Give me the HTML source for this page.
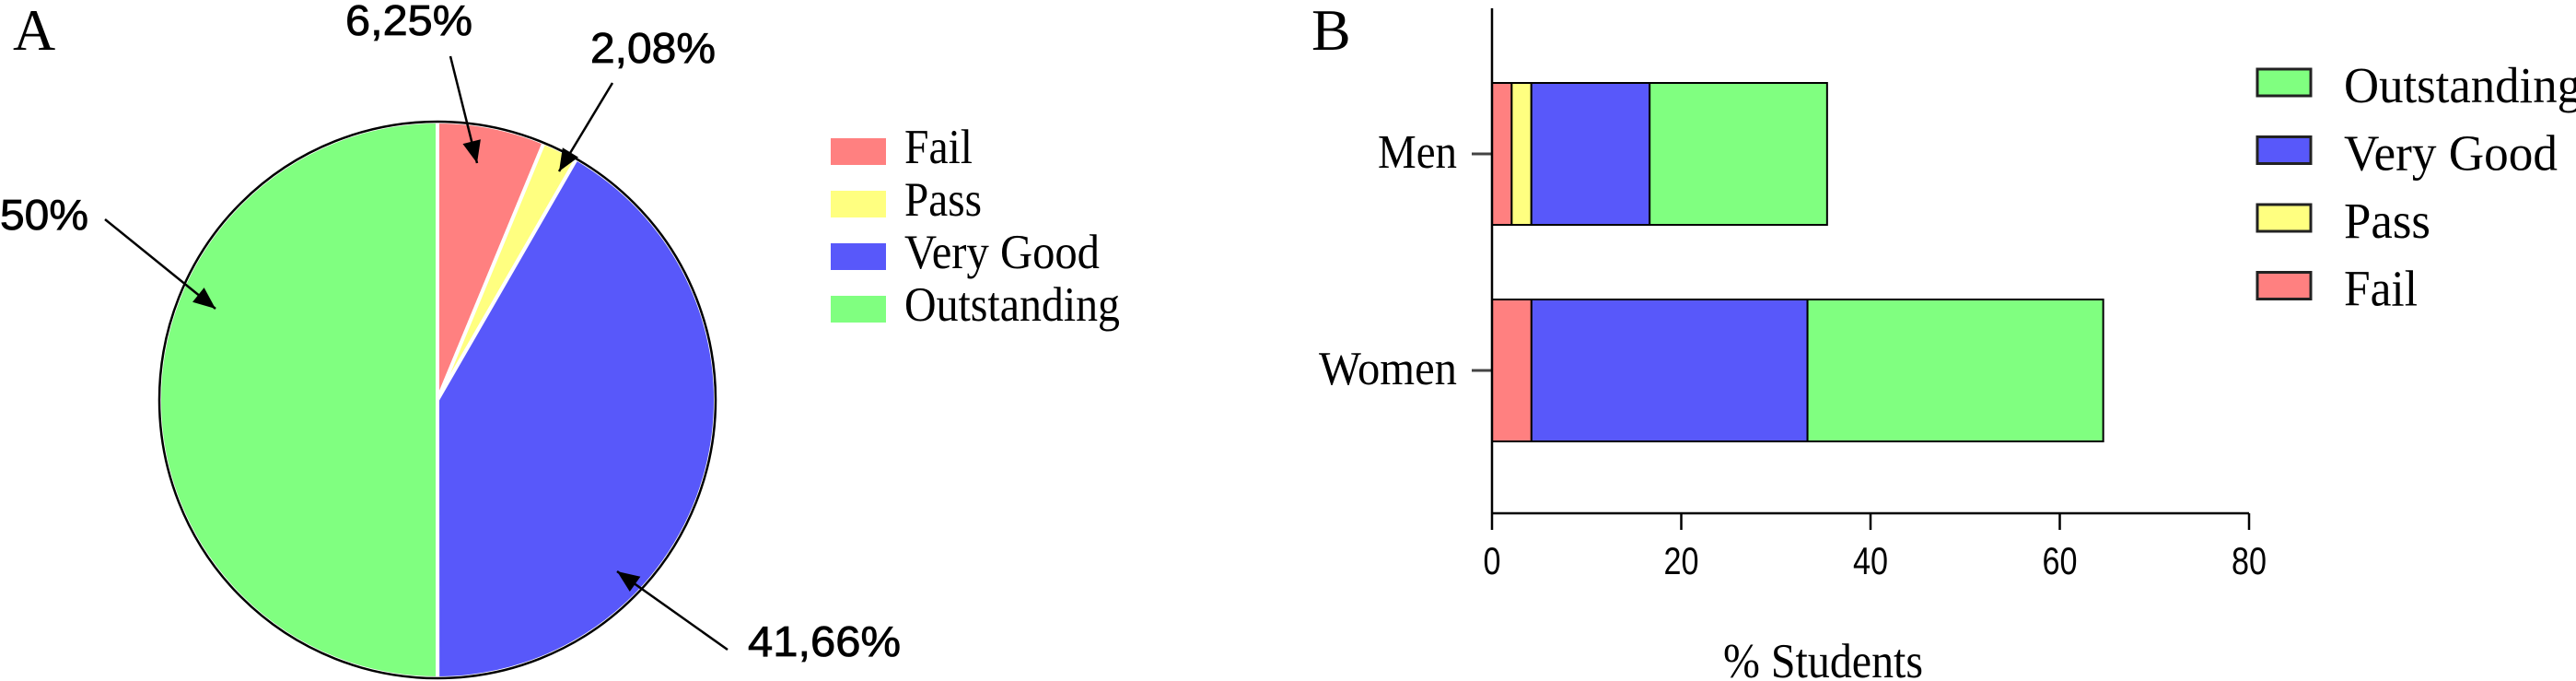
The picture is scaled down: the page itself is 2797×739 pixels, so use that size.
<!DOCTYPE html>
<html><head><meta charset="utf-8"><style>
html,body{margin:0;padding:0;background:#fff;}
svg{display:block;}
.serif{font-family:"Liberation Serif",serif;}
.sans{font-family:"Liberation Sans",sans-serif;}
</style></head><body>
<svg id="fig" width="2797" height="739" viewBox="0 0 2797 739" xmlns="http://www.w3.org/2000/svg">
<text x="14" y="54" class="serif" font-size="64">A</text>
<text x="1424" y="54" class="serif" font-size="64">B</text>
<g id="pie"></g>
<g id="pieAnn">
<text x="375" y="38" class="sans" font-size="46" stroke="#000" stroke-width="0.8" textLength="138" lengthAdjust="spacingAndGlyphs">6,25%</text>
<text x="641" y="68" class="sans" font-size="46" stroke="#000" stroke-width="0.8" textLength="136" lengthAdjust="spacingAndGlyphs">2,08%</text>
<text x="0" y="249" class="sans" font-size="46" stroke="#000" stroke-width="0.8" textLength="96" lengthAdjust="spacingAndGlyphs">50%</text>
<text x="812" y="712" class="sans" font-size="46" stroke="#000" stroke-width="0.8" textLength="166" lengthAdjust="spacingAndGlyphs">41,66%</text>
</g>
<g id="legA"></g>
<g id="bar"></g>
<g id="legB"></g>
</svg>
<script>
const pieCategories = ["Fail","Pass","Very Good","Outstanding"];
const pieValues = [6.25, 2.08, 41.66, 50];
const colors = {"Fail":"#ff8080","Pass":"#ffff80","Very Good":"#5858fa","Outstanding":"#80ff80"};
const barGroups = ["Men","Women"];
const barSeries = ["Fail","Pass","Very Good","Outstanding"];
const menValues = [2.08, 2.08, 12.5, 18.75];
const womenValues = [4.17, 0, 29.17, 31.25];
const xTicks = [0,20,40,60,80];
const legendBOrder = ["Outstanding","Very Good","Pass","Fail"];

const NS="http://www.w3.org/2000/svg";
function mk(tag, attrs, parent){const e=document.createElementNS(NS,tag);for(const k in attrs)e.setAttribute(k,attrs[k]);parent.appendChild(e);return e;}

// Pie
const pie=document.getElementById('pie');
const cx=475, cy=434, R=302;
const total=pieValues.reduce((a,b)=>a+b,0);
let ang=-Math.PI/2;
pieValues.forEach((v,i)=>{
  const a2=ang+v/total*2*Math.PI;
  const large=(a2-ang)>Math.PI?1:0;
  const x1=cx+R*Math.cos(ang), y1=cy+R*Math.sin(ang);
  const x2=cx+R*Math.cos(a2), y2=cy+R*Math.sin(a2);
  const p=mk('path',{d:`M${cx},${cy} L${x1},${y1} A${R},${R} 0 ${large} 1 ${x2},${y2} Z`,fill:colors[pieCategories[i]],stroke:'#fff','stroke-width':4},pie);
  
  
  ang=a2;
});
const outline=mk('circle',{cx:cx,cy:cy,r:R,fill:'none',stroke:'#000','stroke-width':2.5},pie);



// arrows
const ann=document.getElementById('pieAnn');
const arrows=[[489,61,518,177],[665,90,607,186],[114,238,234,335],[790,705,670,620]];
arrows.forEach((a,i)=>{
  const [x1,y1,x2,y2]=a;
  const l=mk('line',{x1:x1,y1:y1,x2:x2,y2:y2,stroke:'#000','stroke-width':2.5},ann);
  
  
  const dx=x2-x1, dy=y2-y1, L=Math.hypot(dx,dy), ux=dx/L, uy=dy/L;
  const h=24,w=10;
  const bx=x2-ux*h, by=y2-uy*h;
  const hd=mk('polygon',{points:`${x2},${y2} ${bx-uy*w},${by+ux*w} ${bx+uy*w},${by-ux*w}`,fill:'#000'},ann);
  
  
});

// Legend A
const legA=document.getElementById('legA');
pieCategories.forEach((c,i)=>{
  const y=150+i*57;
  const r=mk('rect',{x:902,y:y,width:60,height:29,fill:colors[c]},legA);
  
  
  const t=mk('text',{x:982,y:y+27,'font-size':53,class:'serif'},legA);
  t.textContent=c;
  const tl={"Fail":74,"Pass":84,"Very Good":212,"Outstanding":234}[c];
  t.setAttribute('textLength',tl);t.setAttribute('lengthAdjust','spacingAndGlyphs');
  
  
});

// Bar chart
const bar=document.getElementById('bar');
const x0=1620, x1=2442, yTop=9, yBot=557;
const xs=v=>x0+(v-xTicks[0])/(xTicks[xTicks.length-1]-xTicks[0])*(x1-x0);
const groupY={"Men":[90,244],"Women":[325,479]};
[menValues,womenValues].forEach((vals,gi)=>{
  const g=barGroups[gi]; const [ya,yb]=groupY[g];
  let acc=0;
  vals.forEach((v,si)=>{
    if(v<=0) return;
    const r=mk('rect',{x:xs(acc),y:ya,width:xs(acc+v)-xs(acc),height:yb-ya,fill:colors[barSeries[si]],stroke:'#000','stroke-width':2},bar);
    
    
    acc+=v;
  });
  const cyG=(ya+yb)/2;
  const tk=mk('line',{x1:x0-22,y1:cyG,x2:x0,y2:cyG,stroke:'#444','stroke-width':3},bar);
  
  
  const t=mk('text',{x:x0-38,y:cyG+15,'font-size':52,class:'serif','text-anchor':'end'},bar);
  t.textContent=g;
  t.setAttribute('textLength',g==="Men"?86:150);t.setAttribute('lengthAdjust','spacingAndGlyphs');
  
  
});
const ya=mk('line',{x1:x0,y1:yTop,x2:x0,y2:yBot,stroke:'#000','stroke-width':2.5},bar);


const xa=mk('line',{x1:x0,y1:yBot,x2:x1,y2:yBot,stroke:'#000','stroke-width':2.5},bar);


xTicks.forEach(v=>{
  const l=mk('line',{x1:xs(v),y1:yBot,x2:xs(v),y2:575,stroke:'#000','stroke-width':2.5},bar);
  
  
  const t=mk('text',{x:xs(v),y:623,'font-size':42,class:'sans','text-anchor':'middle'},bar);
  t.textContent=v;
  t.setAttribute('textLength',String(v).length*19);t.setAttribute('lengthAdjust','spacingAndGlyphs');
  
  
});
const xt=mk('text',{x:1871,y:735,'font-size':53,class:'serif',textLength:217,lengthAdjust:'spacingAndGlyphs'},bar);
xt.textContent='% Students';



// Legend B
const legB=document.getElementById('legB');
legendBOrder.forEach((c,i)=>{
  const y=75+i*73.5;
  const r=mk('rect',{x:2451,y:y,width:58,height:29,fill:colors[c],stroke:'#222','stroke-width':3},legB);
  
  
  const t=mk('text',{x:2545,y:y+36,'font-size':55,class:'serif'},legB);
  t.textContent=c;
  const tl={"Fail":80,"Pass":94,"Very Good":232,"Outstanding":258}[c];
  t.setAttribute('textLength',tl);t.setAttribute('lengthAdjust','spacingAndGlyphs');
  
  
});
</script>
</body></html>
